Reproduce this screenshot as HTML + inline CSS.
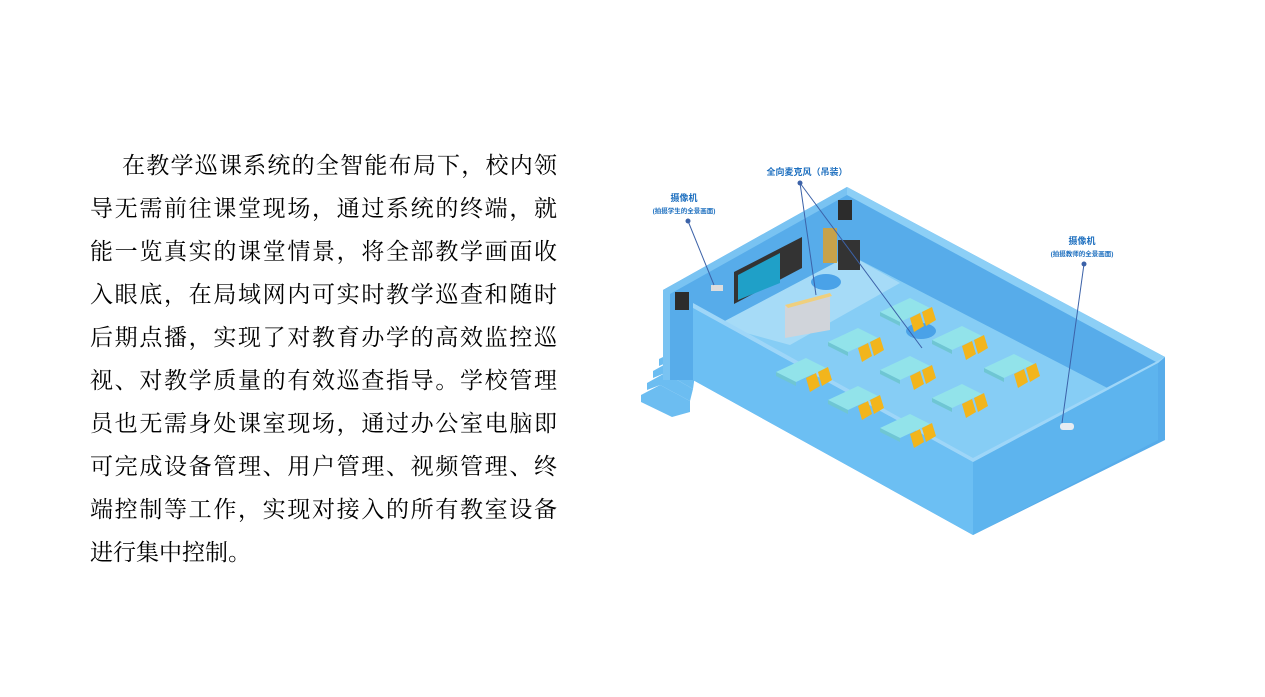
<!DOCTYPE html>
<html><head><meta charset="utf-8"><style>
body{margin:0;width:1265px;height:697px;background:#fff;overflow:hidden;position:relative}
.t{position:absolute;left:90px;top:144px;width:467px;font-family:"Liberation Serif","Noto Serif CJK SC",serif;font-size:23px;line-height:43px;color:#000}
.t div{text-align:justify;text-align-last:justify;white-space:nowrap}
svg{position:absolute;left:0;top:0}
.lb{font-family:"Liberation Sans","Noto Sans CJK SC",sans-serif;font-weight:bold;fill:#1d6fbf}
</style></head><body>
<div class="t">
<div style="padding-left:32px">在教学巡课系统的全智能布局下，校内领</div>
<div>导无需前往课堂现场，通过系统的终端，就</div>
<div>能一览真实的课堂情景，将全部教学画面收</div>
<div>入眼底，在局域网内可实时教学巡查和随时</div>
<div>后期点播，实现了对教育办学的高效监控巡</div>
<div>视、对教学质量的有效巡查指导。学校管理</div>
<div>员也无需身处课室现场，通过办公室电脑即</div>
<div>可完成设备管理、用户管理、视频管理、终</div>
<div>端控制等工作，实现对接入的所有教室设备</div>
<div style="text-align-last:left">进行集中控制。</div>
</div>
<svg width="1265" height="697" viewBox="0 0 1265 697">
<defs>
<g id="d"><polygon points="0,0 30,-14 50,-4 20,10" fill="#92e3ea"/><polygon points="0,0 20,10 20,14 0,4" fill="#6fc6d3"/><polygon points="30,6 40,1 44,14 34,20" fill="#f2b51c"/><polygon points="42,0 52,-5 56,8 46,14" fill="#f2b51c"/></g>
</defs>
<!-- stairs -->
<g fill="#6cbdf1">
<polygon points="641,395 660,385 690,401 690,412 672,417 641,402"/>
<polygon points="647,383 665,373 693,389 690,401 660,385 647,390"/>
<polygon points="653,371 671,361 695,375 693,389 665,373 653,378"/>
<polygon points="659,359 677,350 697,362 695,375 671,361 659,366"/>
</g>
<!-- back walls -->
<polygon points="663,290 847,187 1165,357 1165,440 973,535 693,380 663,380" fill="#57acea"/>
<polygon points="663,290 847,187 847,195 670,294 670,380 663,380" fill="#79c3f2"/>
<polygon points="847,187 1165,357 1158,363 847,195" fill="#8ccff6"/>
<!-- floor -->
<polygon points="723,322 850,255 1150,410 973,462 693,308" fill="#86cdf5"/>
<polygon points="723,322 850,255 900,283 790,345 735,330" fill="#a6dbf7"/>
<!-- front wall -->
<polygon points="693,308 973,462 973,535 693,380" fill="#6cbff3"/>
<polygon points="973,462 1158,363 1158,440 973,535" fill="#5db4ee"/>
<polygon points="693,308 973,462 1158,363 1165,357 973,458 693,303" fill="#9ed6f8"/>
<!-- screen -->
<polygon points="734,272 802,237 802,268 734,304" fill="#333"/>
<polygon points="738,275 780,253 780,283 738,300" fill="#1fa0c8"/>
<!-- speakers -->
<rect x="675" y="292" width="14" height="18" fill="#2c2c2c"/>
<rect x="838" y="200" width="14" height="20" fill="#2c2c2c"/>
<rect x="838" y="240" width="22" height="30" fill="#333"/>
<rect x="823" y="228" width="14" height="35" fill="#c7a24a"/>
<!-- podium -->
<polygon points="785,305 830,293 830,330 785,338" fill="#d0d4da"/>
<polygon points="785,305 830,293 832,296 788,308" fill="#efcf7d"/>
<ellipse cx="826" cy="282" rx="15" ry="8" fill="#4aa2e8"/>
<ellipse cx="921" cy="331" rx="15" ry="8" fill="#4aa2e8"/>
<!-- desks -->
<use href="#d" x="880" y="312"/>
<use href="#d" x="828" y="342"/>
<use href="#d" x="932" y="340"/>
<use href="#d" x="776" y="372"/>
<use href="#d" x="880" y="370"/>
<use href="#d" x="984" y="368"/>
<use href="#d" x="828" y="400"/>
<use href="#d" x="932" y="398"/>
<use href="#d" x="880" y="428"/>
<rect x="1060" y="423" width="14" height="7" rx="3" fill="#e6ecf2"/>
<rect x="711" y="285" width="12" height="6" fill="#ddd"/>
<!-- leader lines -->
<g stroke="#3c62a8" stroke-width="1" fill="none">
<line x1="688" y1="221" x2="714" y2="285"/>
<line x1="800" y1="183" x2="816" y2="295"/>
<line x1="800" y1="183" x2="922" y2="348"/>
<line x1="1084" y1="264" x2="1062" y2="423"/>
</g>
<g fill="#3c62a8"><circle cx="688" cy="221" r="2.5"/><circle cx="800" cy="183" r="2.5"/><circle cx="1084" cy="264" r="2.5"/></g>
<text class="lb" x="807" y="175" font-size="9" text-anchor="middle">全向麦克风（吊装）</text>
<text class="lb" x="684" y="201" font-size="9" text-anchor="middle">摄像机</text>
<text class="lb" x="684" y="213" font-size="6.5" text-anchor="middle">(拍摄学生的全景画面)</text>
<text class="lb" x="1082" y="244" font-size="9" text-anchor="middle">摄像机</text>
<text class="lb" x="1082" y="256" font-size="6.5" text-anchor="middle">(拍摄教师的全景画面)</text>
</svg>
</body></html>
